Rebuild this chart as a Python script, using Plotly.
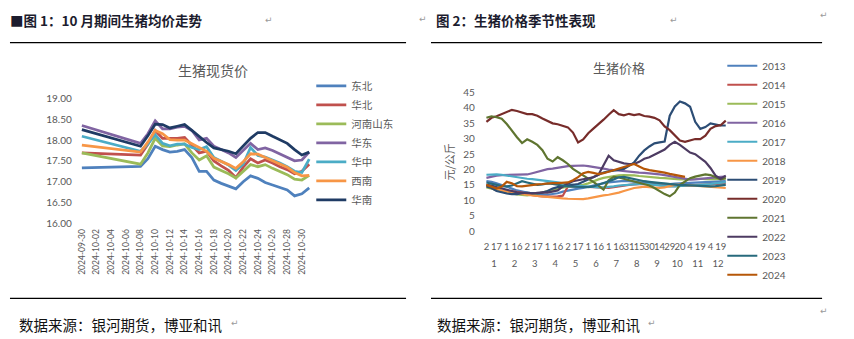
import plotly.graph_objects as go

W, H = 854, 339
def px(x): return x / W
def py(y): return 1 - y / H

# ---------------- Chart 1 data ----------------
dates = ["2024-09-30", "2024-10-08", "2024-10-09", "2024-10-10", "2024-10-11", "2024-10-12",
         "2024-10-13", "2024-10-14", "2024-10-15", "2024-10-16", "2024-10-17", "2024-10-18",
         "2024-10-19", "2024-10-20", "2024-10-21", "2024-10-22", "2024-10-23", "2024-10-24",
         "2024-10-25", "2024-10-26", "2024-10-27", "2024-10-28", "2024-10-29", "2024-10-30",
         "2024-10-31"]
date_ticks = ["2024-09-30", "2024-10-02", "2024-10-04", "2024-10-06", "2024-10-08", "2024-10-10",
              "2024-10-12", "2024-10-14", "2024-10-16", "2024-10-18", "2024-10-20", "2024-10-22",
              "2024-10-24", "2024-10-26", "2024-10-28", "2024-10-30"]

dongbei = [17.33, 17.37, 17.55, 17.85, 17.77, 17.71, 17.73, 17.77, 17.58, 17.25, 17.25, 17.04, 16.96,
           16.90, 16.83, 17.00, 17.14, 17.08, 16.98, 16.92, 16.86, 16.80, 16.66, 16.71, 16.85]
huabei = [17.69, 17.64, 17.90, 18.23, 18.04, 18.04, 18.04, 18.06, 17.88, 17.69, 17.73, 17.50, 17.38,
          17.27, 17.10, 17.35, 17.55, 17.45, 17.52, 17.45, 17.36, 17.29, 17.19, 17.25, 17.42]
henanshandong = [17.69, 17.42, 17.69, 18.04, 17.86, 17.84, 17.88, 17.91, 17.69, 17.52, 17.62, 17.35, 17.27,
                 17.19, 17.09, 17.25, 17.41, 17.36, 17.41, 17.32, 17.25, 17.17, 17.06, 17.04, 17.15]
huadong = [18.35, 17.92, 18.15, 18.46, 18.27, 18.27, 18.31, 18.33, 18.23, 18.00, 18.04, 17.85, 17.77,
           17.69, 17.58, 17.75, 17.92, 17.77, 17.81, 17.75, 17.67, 17.59, 17.50, 17.52, 17.71]
huazhong = [18.09, 17.73, 17.90, 18.13, 17.92, 17.86, 17.90, 17.90, 17.82, 17.77, 17.84, 17.58, 17.49,
            17.40, 17.27, 17.42, 17.82, 17.63, 17.59, 17.52, 17.45, 17.36, 17.25, 17.22, 17.54]
xinan = [17.88, 17.71, 17.95, 18.23, 18.15, 18.01, 18.00, 18.00, 17.91, 17.82, 17.73, 17.56, 17.49,
         17.41, 17.32, 17.48, 17.67, 17.66, 17.58, 17.50, 17.42, 17.35, 17.22, 17.14, 17.15]
huanan = [18.25, 17.85, 18.10, 18.38, 18.37, 18.29, 18.33, 18.37, 18.23, 18.08, 17.94, 17.81, 17.77,
          17.73, 17.67, 17.86, 18.04, 18.18, 18.18, 18.09, 18.01, 17.92, 17.77, 17.64, 17.71]

region_names = ["东北", "华北", "河南山东", "华东", "华中", "西南", "华南"]
region_values = [dongbei, huabei, henanshandong, huadong, huazhong, xinan, huanan]
region_colors = ["#4F81BD", "#C0504D", "#9BBB59", "#8064A2", "#4BACC6", "#F79646", "#1F3B64"]

# ---------------- Chart 2 data (4 points per month) ----------------
day_labels = ["2", "17", "1", "16", "2", "17", "1", "16", "2", "17", "1", "16",
              "1", "16", "31", "15", "30", "14", "29", "20", "4", "19", "4", "19"]
month_labels = ["1", "2", "3", "4", "5", "6", "7", "8", "9", "10", "11", "12"]

y2013 = [16.2, 16.0, 15.5, 15.0, 14.5, 13.8, 13.2, 12.8, 12.5, 12.3, 12.0, 11.8, 11.8, 12.0, 12.3, 12.8,
         13.2, 13.5, 13.8, 14.0, 14.3, 14.8, 15.2, 15.6, 15.8, 16.0, 16.2, 16.3, 16.2, 16.0, 15.8, 15.7,
         15.5, 15.5, 15.4, 15.3, 15.3, 15.4, 15.5, 15.6, 15.6, 15.7, 15.8, 15.9, 16.0, 16.0, 16.1, 16.2]
y2014 = [14.8, 14.0, 13.2, 13.0, 12.8, 12.9, 12.8, 12.5, 12.0, 11.6, 11.4, 11.3, 11.2, 11.2, 11.3, 11.5,
         14.5, 14.6, 14.5, 14.4, 14.3, 14.2, 14.0, 13.9, 14.0, 14.3, 14.6, 14.8, 15.0, 15.2, 15.3, 15.3,
         15.2, 15.0, 14.8, 14.7, 14.6, 14.6, 14.6, 14.7, 14.8, 14.9, 15.0, 15.1, 15.2, 15.3, 15.4, 15.5]
y2015 = [14.2, 13.8, 13.2, 12.8, 12.5, 12.2, 11.9, 11.7, 11.6, 11.8, 12.2, 12.6, 13.0, 13.4, 13.8, 14.2,
         14.5, 14.6, 14.7, 15.0, 15.5, 16.2, 16.8, 17.3, 17.6, 17.9, 18.1, 18.2, 18.2, 18.1, 17.9, 17.7,
         17.5, 17.4, 17.3, 17.2, 17.0, 16.9, 16.8, 16.8, 16.9, 17.0, 17.0, 16.9, 16.8, 16.9, 17.0, 17.1]
y2016 = [17.3, 17.7, 18.0, 18.2, 18.2, 18.3, 18.3, 18.4, 18.4, 18.8, 19.3, 19.8, 20.1, 20.3, 20.6, 20.9,
         21.1, 21.2, 21.3, 21.3, 21.1, 20.9, 20.6, 20.3, 20.0, 19.8, 19.6, 19.4, 19.2, 19.1, 19.0, 18.9,
         18.8, 18.6, 18.4, 18.2, 17.9, 17.5, 17.1, 16.9, 16.7, 16.8, 17.0, 17.2, 17.3, 17.5, 17.6, 17.7]
y2017 = [18.3, 18.4, 18.4, 18.3, 18.0, 17.7, 17.5, 17.2, 17.0, 16.9, 16.7, 16.5, 16.4, 16.2, 15.8, 15.5,
         15.2, 15.0, 14.8, 14.6, 14.4, 14.3, 14.2, 14.2, 14.3, 14.5, 14.8, 15.0, 15.0, 15.2, 15.3, 15.4,
         15.3, 15.0, 14.8, 14.6, 14.5, 14.5, 14.6, 14.6, 14.7, 14.8, 14.9, 15.1, 15.3, 15.5, 15.7, 15.9]
y2018 = [15.0, 14.5, 13.8, 13.2, 12.8, 12.5, 12.3, 12.0, 11.9, 11.6, 11.4, 11.2, 11.0, 10.9, 10.8, 10.6,
         10.5, 10.4, 10.3, 10.4, 10.6, 11.0, 11.3, 11.6, 11.8, 12.1, 12.5, 13.0, 13.5, 14.0, 14.2, 14.4,
         14.3, 14.1, 14.0, 14.2, 14.6, 15.0, 15.1, 15.0, 14.9, 14.8, 14.6, 14.5, 14.3, 14.2, 14.1, 14.0]
y2019 = [14.5, 14.0, 13.0, 12.5, 12.2, 12.0, 12.0, 12.3, 12.5, 12.3, 12.2, 12.5, 13.0, 13.8, 14.3, 14.5,
         14.8, 15.0, 15.3, 16.0, 16.8, 17.5, 18.3, 19.0, 19.4, 19.6, 19.8, 20.2, 21.2, 22.3, 24.5, 26.2,
         27.5, 28.5, 28.8, 29.1, 37.5, 40.5, 42.1, 41.5, 40.4, 35.5, 33.2, 33.8, 35.0, 34.6, 34.3, 34.3]
y2020 = [35.5, 36.8, 37.3, 38.0, 38.9, 39.4, 39.0, 38.5, 38.0, 38.0, 37.5, 36.6, 35.9, 35.0, 34.7, 34.3,
         33.7, 32.0, 28.8, 29.8, 31.8, 33.3, 34.6, 36.2, 37.8, 39.3, 38.0, 37.6, 38.1, 37.7, 38.0, 37.4,
         37.2, 36.8, 36.0, 34.0, 32.8, 31.2, 29.4, 29.0, 29.5, 29.9, 29.9, 31.0, 33.2, 34.1, 34.4, 35.9]
y2021 = [36.8, 37.3, 37.0, 36.5, 34.8, 32.5, 30.5, 28.6, 29.8, 29.0, 28.0, 26.3, 23.5, 22.6, 24.0, 23.0,
         21.8, 20.2, 19.2, 18.2, 17.2, 16.0, 14.8, 13.5, 16.5, 17.6, 17.4, 17.0, 16.6, 16.1, 15.6, 15.2,
         14.8, 14.0, 13.0, 12.0, 11.3, 12.5, 15.0, 16.2, 17.2, 17.7, 18.0, 18.4, 18.2, 17.6, 16.8, 17.2]
y2022 = [15.0, 14.8, 14.3, 13.8, 13.5, 13.0, 12.6, 12.5, 12.3, 12.2, 12.4, 12.6, 12.5, 12.8, 13.2, 14.5,
         15.5, 16.2, 16.5, 16.8, 17.0, 17.5, 18.3, 21.5, 24.5, 23.0, 22.5, 22.0, 21.8, 21.8, 22.5, 23.5,
         24.0, 24.8, 25.5, 26.5, 28.0, 29.0, 28.0, 26.8, 25.5, 25.0, 23.8, 22.5, 20.5, 18.0, 17.0, 18.0]
y2023 = [15.8, 15.5, 15.0, 14.6, 14.5, 14.8, 15.5, 16.2, 15.8, 15.3, 15.0, 15.2, 15.5, 15.3, 15.0, 14.8,
         14.5, 14.4, 14.3, 14.2, 14.3, 14.5, 15.0, 15.6, 16.2, 16.8, 17.5, 17.6, 17.2, 16.9, 16.5, 16.2,
         16.0, 15.8, 15.5, 15.3, 15.2, 15.0, 14.9, 14.9, 14.8, 14.8, 14.7, 14.6, 14.5, 14.6, 14.8, 15.0]
y2024 = [15.0, 14.3, 13.8, 14.5, 16.0, 15.5, 14.6, 14.5, 14.8, 15.0, 15.2, 15.3, 15.5, 15.6, 15.6, 15.7,
         15.8, 16.5, 17.5, 18.8, 19.2, 18.9, 18.5, 18.8, 19.3, 19.8, 20.3, 20.7, 21.2, 21.8, 21.0, 20.2,
         19.8, 19.6, 19.3, 19.0, 18.6, 18.2, 17.8, 17.6]

year_names = ["2013", "2014", "2015", "2016", "2017", "2018", "2019", "2020", "2021", "2022", "2023", "2024"]
year_values = [y2013, y2014, y2015, y2016, y2017, y2018, y2019, y2020, y2021, y2022, y2023, y2024]
year_colors = ["#4F81BD", "#C0504D", "#9BBB59", "#8064A2", "#4BACC6", "#F79646",
               "#2C4D75", "#772C2A", "#5F7530", "#4D3B62", "#276A7C", "#B65708"]

PTS_PER_MONTH = 4
n_slots = PTS_PER_MONTH * len(month_labels)
day_tickvals = [i * (n_slots // len(day_labels)) for i in range(len(day_labels))]
month_tickvals = [m * PTS_PER_MONTH + (PTS_PER_MONTH - 1) / 2 for m in range(len(month_labels))]

FONT = "Lato, 'Noto Sans CJK SC', sans-serif"
CJK = "'Noto Sans CJK SC', sans-serif"
GRAY = "#595959"

fig = go.Figure()

for name, vals, col in zip(region_names, region_values, region_colors):
    fig.add_trace(go.Scatter(x=dates, y=vals, name=name, mode="lines",
                             line=dict(color=col, width=2.75), xaxis="x", yaxis="y",
                             legend="legend"))

for name, vals, col in zip(year_names, year_values, year_colors):
    fig.add_trace(go.Scatter(x=list(range(len(vals))), y=vals, name=name, mode="lines",
                             line=dict(color=col, width=2.2), xaxis="x2", yaxis="y2",
                             legend="legend2"))

# invisible helper trace to activate the month-label axis
fig.add_trace(go.Scatter(x=[0], y=[0], mode="markers", marker=dict(opacity=0), showlegend=False,
                         hoverinfo="skip", xaxis="x3", yaxis="y2"))

fig.update_layout(
    width=W, height=H, margin=dict(l=0, r=0, t=0, b=0),
    paper_bgcolor="white", plot_bgcolor="white",
    font=dict(family=FONT, color=GRAY, size=10),
    xaxis=dict(domain=[px(77), px(311)], type="date",
               range=["2024-09-29 14:00", "2024-10-31 10:00"],
               tickvals=date_ticks, tickformat="%Y-%m-%d", tickangle=-90,
               tickfont=dict(size=8.5, color=GRAY, family=FONT), ticklabelstandoff=3,
               showgrid=False, zeroline=False, showline=False, ticks="", anchor="y"),
    yaxis=dict(domain=[py(225), py(95)], range=[16, 19], dtick=0.5, tickformat=".2f",
               tickfont=dict(size=10, color=GRAY, family=FONT), ticklabelstandoff=6,
               showgrid=False, zeroline=False, showline=False, ticks="", anchor="x"),
    xaxis2=dict(domain=[px(483), px(728)], range=[-0.5, n_slots - 0.5],
                tickvals=day_tickvals, ticktext=day_labels, tickangle=0,
                tickfont=dict(size=9.5, color=GRAY, family=FONT), ticklabelstandoff=8,
                showgrid=False, zeroline=False, showline=False, ticks="", anchor="y2"),
    xaxis3=dict(overlaying="x2", anchor="y2", side="bottom", range=[-0.5, n_slots - 0.5],
                tickvals=month_tickvals, ticktext=month_labels, tickangle=0,
                tickfont=dict(size=9.5, color=GRAY, family=FONT), ticklabelstandoff=25,
                showgrid=False, zeroline=False, showline=False, ticks=""),
    yaxis2=dict(domain=[py(233), py(89)], range=[0, 45], dtick=5,
                tickfont=dict(size=10, color=GRAY, family=FONT), ticklabelstandoff=8,
                title=dict(text="元/公斤", font=dict(size=11, color=GRAY, family=CJK), standoff=6),
                showgrid=False, zeroline=False, showline=False, ticks="", anchor="x2"),
    legend=dict(x=px(310), y=py(67), xanchor="left", yanchor="top",
                font=dict(size=10.5, color=GRAY, family=FONT), bgcolor="rgba(0,0,0,0)",
                borderwidth=0, itemwidth=30, tracegroupgap=0),
    legend2=dict(x=px(722), y=py(46), xanchor="left", yanchor="top",
                 font=dict(size=10, color=GRAY, family=FONT), bgcolor="rgba(0,0,0,0)",
                 borderwidth=0, itemwidth=30, tracegroupgap=0),
    showlegend=True,
)

shapes = []
for (x0, x1, y) in [(8, 405, 37), (430, 822, 37), (8, 405, 303), (430, 822, 303)]:
    shapes.append(dict(type="line", xref="paper", yref="paper", x0=px(x0), x1=px(x1),
                       y0=py(y), y1=py(y), line=dict(color="black", width=1.3)))
fig.update_layout(shapes=shapes)

ann = []
def add_text(text, x, y, size, color, family=CJK, xanchor="left", bold=False):
    t = f"<b>{text}</b>" if bold else text
    ann.append(dict(text=t, x=px(x), y=py(y), xref="paper", yref="paper", showarrow=False,
                    xanchor=xanchor, yanchor="middle", font=dict(size=size, color=color, family=family)))

TITLE_C = "#1C1C2E"
add_text("■图 1：10 月期间生猪均价走势", 6, 14, 13.5, TITLE_C, bold=True)
add_text("图 2：生猪价格季节性表现", 433, 14, 13.5, TITLE_C, bold=True)
add_text("生猪现货价", 211, 65, 14, GRAY, xanchor="center")
add_text("生猪价格", 618, 63, 13, GRAY, xanchor="center")
add_text("数据来源：银河期货，博亚和讯", 15, 330, 14.5, "#111111")
add_text("数据来源：银河期货，博亚和讯", 434, 330, 14.5, "#111111")
for (x, y) in [(262, 13), (416, 12), (668, 13), (818, 8), (228, 329), (646, 329), (818, 316)]:
    add_text("↵", x, y, 9, "#9a9a9a", family="DejaVu Sans")
fig.update_layout(annotations=ann)

fig.write_html("out.html")
